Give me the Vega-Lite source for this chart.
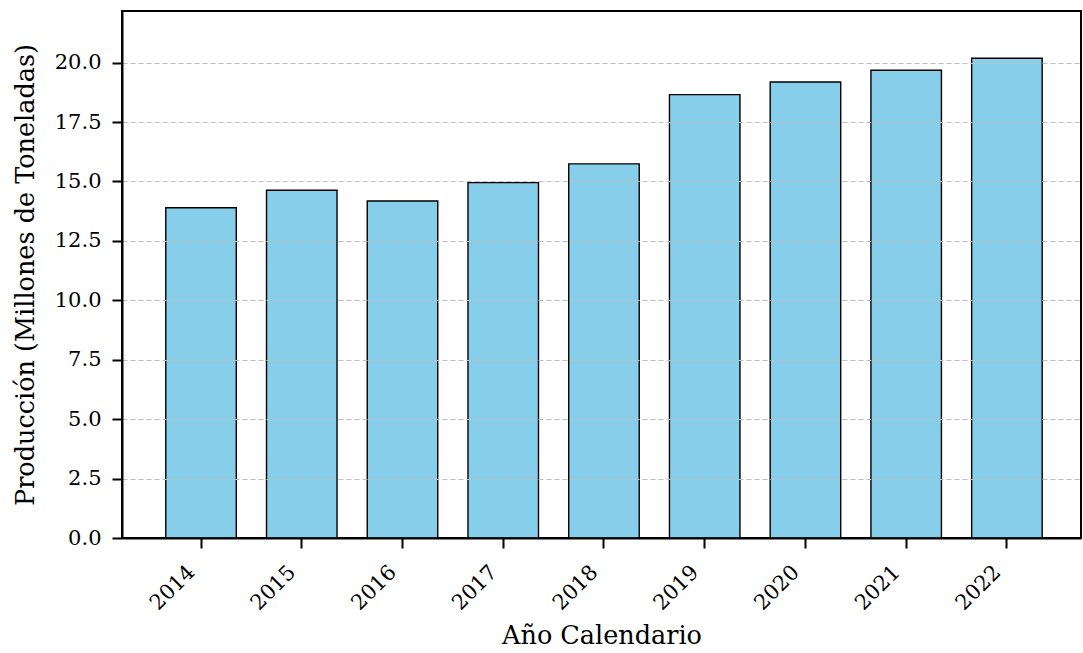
{
  "$schema": "https://vega.github.io/schema/vega-lite/v6.json",
  "width": 959,
  "height": 527,
  "autosize": {"type": "none"},
  "padding": {"left": 122, "top": 11, "right": 2, "bottom": 115},
  "background": "white",
  "config": {
    "view": {"stroke": "black", "strokeWidth": 2},
    "font": "DejaVu Serif"
  },
  "data": {
    "values": [
      {"anio": "2014", "produccion": 13.89},
      {"anio": "2015", "produccion": 14.63},
      {"anio": "2016", "produccion": 14.18},
      {"anio": "2017", "produccion": 14.95},
      {"anio": "2018", "produccion": 15.74},
      {"anio": "2019", "produccion": 18.65},
      {"anio": "2020", "produccion": 19.18},
      {"anio": "2021", "produccion": 19.68},
      {"anio": "2022", "produccion": 20.18}
    ]
  },
  "mark": {"type": "bar", "fill": "#87CEEB", "stroke": "black", "strokeWidth": 1.4},
  "encoding": {
    "x": {
      "field": "anio",
      "type": "ordinal",
      "scale": {"paddingInner": 0.3, "paddingOuter": 0.41, "align": 0.53},
      "axis": {
        "title": "Año Calendario",
        "titleFont": "DejaVu Serif",
        "titleFontSize": 25.5,
        "titleFontWeight": "normal",
        "titleColor": "black",
        "titlePadding": 10,
        "labelFont": "DejaVu Serif",
        "labelFontSize": 21,
        "labelColor": "black",
        "labelAngle": -45,
        "labelAlign": "right",
        "labelBaseline": "alphabetic",
        "labelPadding": 25,
        "labelOffset": -5,
        "tickSize": 10,
        "tickWidth": 2,
        "tickColor": "black",
        "domainColor": "black",
        "domainWidth": 2,
        "grid": false,
        "zindex": 2
      }
    },
    "y": {
      "field": "produccion",
      "type": "quantitative",
      "scale": {"domain": [0, 22.17], "nice": false, "zero": true},
      "axis": {
        "title": "Producción (Millones de Toneladas)",
        "titleFont": "DejaVu Serif",
        "titleFontSize": 25.5,
        "titleFontWeight": "normal",
        "titleColor": "black",
        "titlePadding": 16,
        "values": [0, 2.5, 5, 7.5, 10, 12.5, 15, 17.5, 20],
        "format": ".1f",
        "labelFont": "DejaVu Serif",
        "labelFontSize": 21,
        "labelColor": "black",
        "labelPadding": 11,
        "tickSize": 10,
        "tickWidth": 2,
        "tickColor": "black",
        "domainColor": "black",
        "domainWidth": 2,
        "grid": true,
        "gridColor": "#bfbfbf",
        "gridDash": [5, 3],
        "gridWidth": 1,
        "zindex": 1
      }
    }
  }
}
